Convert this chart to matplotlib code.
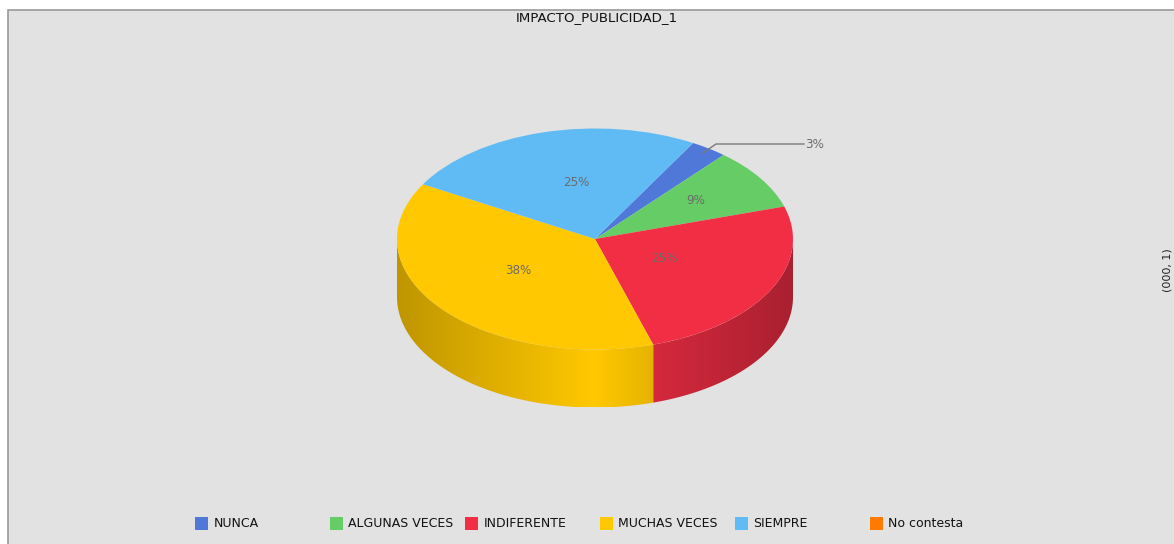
import matplotlib
matplotlib.use('Agg')
import matplotlib.pyplot as plt
import numpy as np
from matplotlib.patches import Polygon, Rectangle
from matplotlib.transforms import Affine2D

categories = ['NUNCA', 'ALGUNAS VECES', 'INDIFERENTE', 'MUCHAS VECES', 'SIEMPRE', 'No contesta']
percent = [3, 9, 25, 38, 25, 0]
colors = ['#4f78d8', '#66cc66', '#f22e45', '#ffc800', '#60bbf5', '#ff7a00']
title = 'IMPACTO_PUBLICIDAD_1'

W, H = 1174, 544
cx, cy, rx, ry, depth = 595, 239, 198, 110.5, 58
bg = '#e2e2e2'
font = 'DejaVu Sans'

fig = plt.figure(figsize=(W / 100, H / 100), dpi=100, facecolor='#ffffff')
px = Affine2D().scale(1, -1).translate(0, H)  # pixel coords, origin top left

# grey panel, runs off the right and bottom edges
left, top = 8, 10
fig.add_artist(Rectangle((left, top), W, H, transform=px, facecolor=bg,
                         edgecolor='#999999', linewidth=1.2, zorder=-1))

ax = fig.add_axes([left / W, 0, (W - left) / W, (H - top) / H])
ax.patch.set_alpha(0)

wedges, _ = ax.pie(percent, colors=colors, startangle=60.3, counterclock=False,
                   radius=1, wedgeprops={'linewidth': 0, 'zorder': 3})
ax.set_aspect('auto')
ax.axis('off')

# side wall of the disc, only the front half shows
wall_h = depth / ry
shade_stops = {3: ([0, 0.77, 1], [0.75, 1.0, 0.90]),
               2: ([0, 1], [0.88, 0.70])}
for i, w in enumerate(wedges):
    a1, a2 = max(w.theta1, -180), min(w.theta2, 0)
    if a2 <= a1:
        continue
    t = np.radians(np.linspace(a1, a2, 200))
    xs, ys = np.cos(t), np.sin(t)
    outline = np.r_[np.c_[xs, ys], np.c_[xs, ys - wall_h][::-1]]

    grad = np.linspace(0, 1, 300)
    shade = np.interp(grad, *shade_stops.get(i, ([0, 1], [1, 1])))
    rgb = np.outer(shade, matplotlib.colors.to_rgb(w.get_facecolor()))[None, :, :]
    im = ax.imshow(rgb, extent=(xs.min(), xs.max(), -1 - wall_h, 0), aspect='auto',
                   interpolation='bilinear', zorder=2)
    clip = Polygon(outline, closed=True, transform=ax.transData)
    im.set_clip_path(clip)

ax.set_xlim((left - cx) / rx, (W - cx) / rx)
ax.set_ylim((cy - H) / ry, (cy - top) / ry)

fig.text(597, 17.5, title, transform=px, ha='center', va='center', fontsize=9.6,
         family=font, color='#111111')

# slice labels
label_pos = [(815, 144), (696, 201), (664, 258), (518, 271), (576, 182)]
for (x, y), p in zip(label_pos, percent):
    fig.text(x, y, '%d%%' % p, transform=px, ha='center', va='center', fontsize=8.6,
             family=font, color='#6b6b6b', zorder=10)

fig.add_artist(plt.Line2D([703, 716, 804], [153, 144, 144], transform=px,
                          color='#7a7a7a', linewidth=1))

# legend in even columns
for i, (name, c) in enumerate(zip(categories, colors)):
    x = 195 + 135 * i
    fig.add_artist(Rectangle((x, 517), 12.5, 13, transform=px, facecolor=c, edgecolor='none'))
    fig.text(x + 18.5, 523.5, name, transform=px, ha='left', va='center', fontsize=9,
             family=font, color='#111111')

# axis title of a neighbouring panel, pushed against the edge
fig.text(1167, 270, '(000, 1)', transform=px, ha='center', va='center', rotation=90,
         fontsize=8, family=font, color='#222222')

fig.savefig('out.png', dpi=100, facecolor=fig.get_facecolor())
